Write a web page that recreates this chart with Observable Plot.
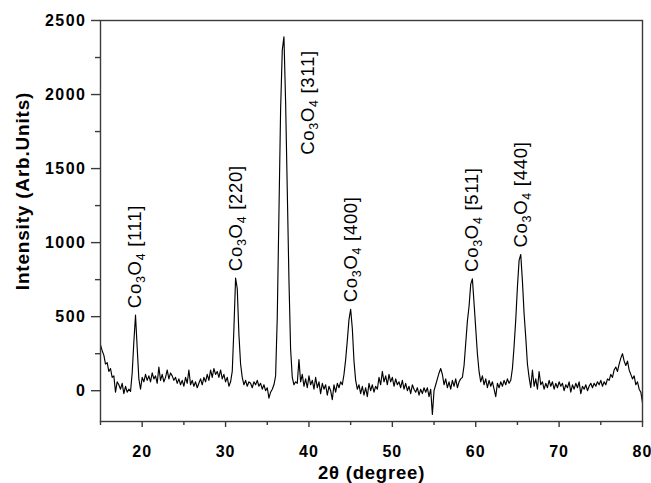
<!DOCTYPE html>
<html><head><meta charset="utf-8">
<script src="https://cdn.jsdelivr.net/npm/d3@7"></script>
<script src="https://cdn.jsdelivr.net/npm/@observablehq/plot@0.6"></script>
<style>
body{margin:0;background:#fff;}
#chart svg{display:block;}
g[aria-label="y-axis tick label"] text{letter-spacing:1.5px;}
g[aria-label="x-axis tick label"] text{letter-spacing:1px;}
</style></head><body><div id="chart"></div>
<script>
// 2θ sampling grid
const twoThetaStart = 15;
const twoThetaStep = 0.2;
// Intensity, 5 samples per degree (x.0, x.2, x.4, x.6, x.8)
const intensity = [
  310, 270, 240, 180, 190,   // 15
  130, 150, 90, 100, -10,    // 16
  60, 40, 10, 50, -20,       // 17
  30, -10, 10, -5, 120,      // 18
  330, 510, 290, 80, 10,     // 19
  90, 60, 110, 70, 100,      // 20
  60, 120, 80, 100, 50,      // 21
  160, 70, 110, 60, 90,      // 22
  140, 80, 120, 100, 70,     // 23
  90, 50, 80, 40, 70,        // 24
  30, 90, 50, 140, 40,       // 25
  70, 30, 60, 20, 50,        // 26
  80, 40, 90, 60, 110,       // 27
  70, 140, 90, 150, 110,     // 28
  130, 90, 140, 80, 110,     // 29
  60, 90, 30, 60, 130,       // 30
  420, 760, 690, 380, 180,   // 31
  90, 40, 70, 30, 60,        // 32
  50, 20, 60, 40, 70,        // 33
  30, 50, 10, 40, 0,         // 34
  20, -50, -10, 10, 40,      // 35
  100, 500, 1200, 1900, 2300,// 36
  2390, 1950, 1350, 750, 280,// 37
  90, 40, 60, 50, 210,       // 38
  60, 110, 30, 80, 20,       // 39
  100, 40, 70, 10, 90,       // 40
  20, 60, -20, 50, 10,       // 41
  40, -30, 30, 0, -60,       // 42
  40, -10, 50, 20, 60,       // 43
  40, 110, 210, 340, 480,    // 44
  550, 420, 200, 70, 10,     // 45
  40, -20, 30, -30, 20,      // 46
  -40, 50, 0, 40, -10,       // 47
  30, 10, 90, 40, 130,       // 48
  60, 100, 40, 110, 60,      // 49
  90, 30, 80, 40, 60,        // 50
  20, 70, 10, 50, 0,         // 51
  30, -20, 40, 10, -10,      // 52
  20, -30, 10, -20, 20,      // 53
  -10, 20, -40, 10, -160,    // 54
  0, 40, 80, 120, 150,       // 55
  110, 40, 80, 20, 60,       // 56
  10, 70, 30, 80, 20,        // 57
  60, 80, 90, 170, 320,      // 58
  470, 570, 720, 755, 590,   // 59
  420, 250, 130, 60, 100,    // 60
  40, 80, 20, 70, 30,        // 61
  60, 10, -40, 50, 20,       // 62
  60, 30, 70, 40, 80,        // 63
  50, 70, 150, 300, 480,     // 64
  700, 880, 920, 740, 520,   // 65
  360, 180, 90, 20, 140,     // 66
  30, 80, 10, 130, 40,       // 67
  60, 10, 50, 20, 70,        // 68
  30, 60, 10, 50, 20,        // 69
  60, 30, 50, 0, 40,         // 70
  20, 60, -10, 40, 10,       // 71
  50, 20, 60, -20, 30,       // 72
  10, 40, 0, 30, 50,         // 73
  20, 50, 30, 60, 40,        // 74
  70, 30, 60, 40, 80,        // 75
  70, 110, 90, 140, 160,     // 76
  130, 180, 220, 250, 200,   // 77
  170, 200, 140, 110, 80,    // 78
  100, 40, 60, 10, -10,      // 79
  -80                        // 80
];
// Indexed peaks
const peakPos = [19.2, 31.2, 45.0, 59.6, 65.4];
const peakHeight = [510, 760, 550, 755, 920];
const peakPlanes = ["[111]", "[220]", "[400]", "[511]", "[440]"];
const mainPeakPos = [37.0];
const mainPeakHeight = [2390];
const mainPeakPlane = ["[311]"];
// Ticks
const xTicks = [20, 30, 40, 50, 60, 70, 80];
const xMinorTicks = [15, 25, 35, 45, 55, 65, 75];
const yTicks = [0, 500, 1000, 1500, 2000, 2500];
const yMinorTicks = [250, 750, 1250, 1750, 2250];
const xTitle = "2θ (degree)";
const yTitle = "Intensity (Arb.Units)";

const data = intensity.map((v, i) => ({t: twoThetaStart + i * twoThetaStep, v}));
const peaks = peakPos.map((p, i) => ({p, h: peakHeight[i], label: "Co3O4 " + peakPlanes[i]}));
const mainPeak = mainPeakPos.map((p, i) => ({p, h: mainPeakHeight[i], label: "Co3O4 " + mainPeakPlane[i]}));

const font = "'Liberation Sans', Arial, Helvetica, sans-serif";
const axisColor = "#3a3a3a";

const chart = Plot.plot({
  width: 651, height: 483,
  marginLeft: 100, marginRight: 9, marginTop: 20, marginBottom: 62,
  style: {fontFamily: font, background: "#fff", color: "#000"},
  x: {domain: [15, 80], axis: null},
  y: {domain: [-208, 2500], axis: null},
  marks: [
    Plot.axisY(yMinorTicks, {anchor: "left", tickSize: 5, fill: "none", stroke: axisColor, strokeWidth: 1.4}),
    Plot.axisY(yTicks, {anchor: "left", tickSize: 9, tickPadding: 5, tickFormat: d => String(d), fontSize: 16, fontWeight: "bold", stroke: axisColor, strokeWidth: 1.4, label: null}),
    Plot.axisX(xMinorTicks, {anchor: "bottom", tickSize: 4, fill: "none", stroke: axisColor, strokeWidth: 1.4}),
    Plot.axisX(xTicks, {anchor: "bottom", tickSize: 6, tickPadding: 18, tickFormat: d => String(d), fontSize: 16, fontWeight: "bold", stroke: axisColor, strokeWidth: 1.4, label: null}),
    Plot.line(data, {x: "t", y: "v", stroke: "#000", strokeWidth: 1.15}),
    Plot.text(peaks, {x: "p", y: "h", text: "label", rotate: -90, textAnchor: "start", lineAnchor: "middle", dy: -7, fontSize: 18.5, fill: "#000"}),
    Plot.text(mainPeak, {x: "p", y: "h", text: "label", rotate: -90, textAnchor: "start", lineAnchor: "middle", dx: 24, dy: 118, fontSize: 18.5, fill: "#000"}),
    Plot.text([yTitle], {frameAnchor: "left", rotate: -90, textAnchor: "middle", lineAnchor: "middle", dx: -78, dy: -30, fontSize: 19, fontWeight: "bold", fill: "#000"}),
    Plot.text([xTitle], {frameAnchor: "bottom", textAnchor: "middle", lineAnchor: "middle", dy: 52, fontSize: 18.5, fontWeight: "bold", fill: "#000"}),
    Plot.frame({stroke: axisColor, strokeWidth: 1.4})
  ]
});

// Chemical-formula subscripts in the peak labels
chart.querySelectorAll("text").forEach(t => {
  const s = t.textContent;
  if (!s.startsWith("Co3O4 ")) return;
  const rest = s.slice(5);
  t.textContent = "";
  t.style.letterSpacing = "0.7px";
  const ns = "http://www.w3.org/2000/svg";
  const parts = [["Co", 0, null], ["3", 4, 12.5], ["O", -4, null], ["4", 4, 12.5], [rest, -4, null]];
  parts.forEach(([txt, dy, fs]) => {
    const ts = document.createElementNS(ns, "tspan");
    ts.textContent = txt;
    if (dy) ts.setAttribute("dy", dy);
    if (fs) ts.setAttribute("font-size", fs);
    t.appendChild(ts);
  });
});
chart.querySelectorAll("text").forEach(t => {
  if (t.textContent === xTitle || t.textContent === yTitle) t.style.letterSpacing = "0.8px";
});

document.getElementById("chart").appendChild(chart);
</script></body></html>
